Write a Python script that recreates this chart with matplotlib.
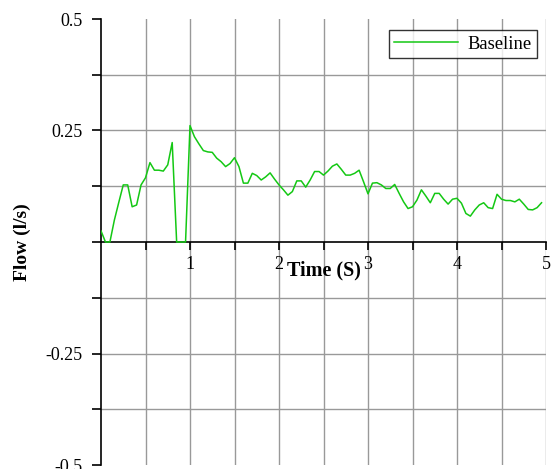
import matplotlib
matplotlib.use("Agg")
import matplotlib.pyplot as plt

time_s = [0.00, 0.05, 0.10, 0.15, 0.20, 0.25, 0.30, 0.35, 0.40, 0.45,
          0.50, 0.55, 0.60, 0.65, 0.70, 0.75, 0.80, 0.85, 0.90, 0.95,
          1.00, 1.05, 1.10, 1.15, 1.20, 1.25, 1.30, 1.35, 1.40, 1.45,
          1.50, 1.55, 1.60, 1.65, 1.70, 1.75, 1.80, 1.85, 1.90, 1.95,
          2.00, 2.05, 2.10, 2.15, 2.20, 2.25, 2.30, 2.35, 2.40, 2.45,
          2.50, 2.55, 2.60, 2.65, 2.70, 2.75, 2.80, 2.85, 2.90, 2.95,
          3.00, 3.05, 3.10, 3.15, 3.20, 3.25, 3.30, 3.35, 3.40, 3.45,
          3.50, 3.55, 3.60, 3.65, 3.70, 3.75, 3.80, 3.85, 3.90, 3.95,
          4.00, 4.05, 4.10, 4.15, 4.20, 4.25, 4.30, 4.35, 4.40, 4.45,
          4.50, 4.55, 4.60, 4.65, 4.70, 4.75, 4.80, 4.85, 4.90, 4.95]

baseline = [0.025, 0.000, 0.000, 0.049, 0.089, 0.128, 0.128, 0.079, 0.083, 0.128,
            0.144, 0.178, 0.161, 0.161, 0.159, 0.173, 0.223, 0.000, 0.000, 0.000,
            0.261, 0.236, 0.220, 0.205, 0.202, 0.201, 0.188, 0.180, 0.169, 0.176,
            0.189, 0.169, 0.132, 0.132, 0.154, 0.149, 0.139, 0.146, 0.155, 0.141,
            0.128, 0.117, 0.105, 0.113, 0.137, 0.137, 0.123, 0.139, 0.158, 0.158,
            0.150, 0.159, 0.170, 0.175, 0.163, 0.150, 0.150, 0.154, 0.161, 0.135,
            0.108, 0.132, 0.133, 0.128, 0.120, 0.120, 0.129, 0.109, 0.090, 0.075,
            0.079, 0.094, 0.117, 0.103, 0.088, 0.109, 0.109, 0.096, 0.085, 0.096,
            0.098, 0.087, 0.064, 0.058, 0.072, 0.083, 0.088, 0.077, 0.075, 0.107,
            0.096, 0.093, 0.093, 0.090, 0.096, 0.085, 0.073, 0.072, 0.077, 0.088]

x_ticks = [0.5, 1.0, 1.5, 2.0, 2.5, 3.0, 3.5, 4.0, 4.5, 5.0]
x_labels = ["", "1", "", "2", "", "3", "", "4", "", "5"]
y_ticks = [-0.5, -0.375, -0.25, -0.125, 0.0, 0.125, 0.25, 0.375, 0.5]
y_labels = ["-0.5", "", "-0.25", "", "", "", "0.25", "", "0.5"]
y_grid = [-0.375, -0.25, -0.125, 0.125, 0.25, 0.375]

plt.rcParams['font.family'] = ['Liberation Serif', 'DejaVu Serif']

fig = plt.figure(figsize=(5.52, 4.69), dpi=100)
ax = fig.add_axes([101/552, 1 - 465/469, 445/552, 446/469])

ax.set_xlim(0, 5)
ax.set_ylim(-0.5, 0.5)

for xv in x_ticks:
    ax.axvline(xv, color='#999999', lw=1.0, zorder=0)
for yv in y_grid:
    ax.axhline(yv, color='#999999', lw=1.0, zorder=0)

ax.plot(time_s, baseline, color='#14c814', lw=1.1, label='Baseline', zorder=3)

ax.spines['top'].set_visible(False)
ax.spines['right'].set_visible(False)
ax.spines['bottom'].set_position(('data', 0))
ax.spines['left'].set_linewidth(1.2)
ax.spines['bottom'].set_linewidth(1.2)

ax.set_xticks(x_ticks)
ax.set_xticklabels(x_labels, fontsize=13)
ax.set_yticks(y_ticks)
ax.set_yticklabels(y_labels, fontsize=13)
ax.tick_params(axis='x', direction='out', length=6, width=1.2, pad=4)
ax.tick_params(axis='y', direction='out', length=6.5, width=1.2, pad=6.5)

fig.text(22/552, 1 - 242/469, 'Flow (l/s)', fontsize=14, fontweight='bold',
         rotation=90, ha='center', va='center')
ax.text(2.5, -0.063, 'Time (S)', fontsize=14.5, fontweight='bold',
        ha='center', va='center')

leg = ax.legend(loc='upper right', bbox_to_anchor=(0.979, 0.975), fontsize=13.4,
                frameon=True, fancybox=False, handlelength=3.4,
                borderpad=0.3, handletextpad=0.5, borderaxespad=0)
leg.get_frame().set_edgecolor('black')
leg.get_frame().set_linewidth(1.0)

fig.savefig('out.png', dpi=100)
